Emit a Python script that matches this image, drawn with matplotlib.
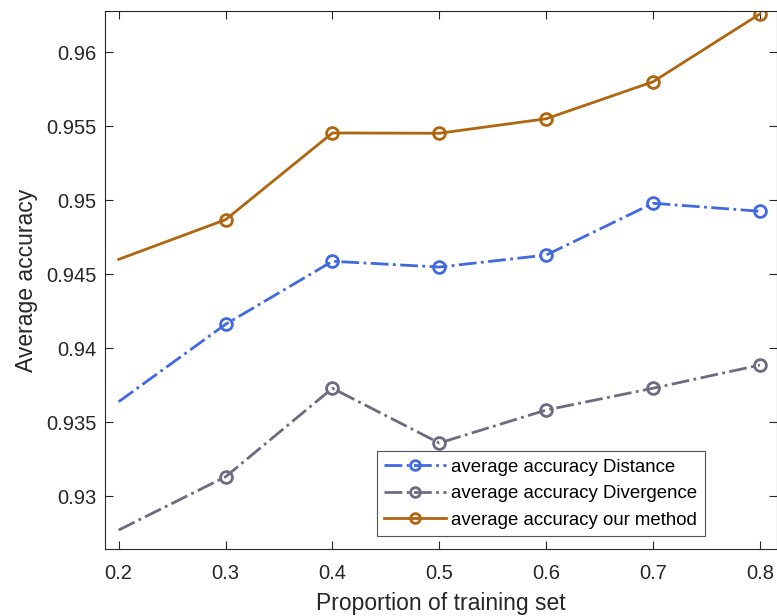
import numpy as np
import matplotlib.pyplot as plt

plt.rcParams['font.family'] = ['Liberation Sans', 'DejaVu Sans']

# proportion of training set
proportion = [0.2, 0.3, 0.4, 0.5, 0.6, 0.7, 0.8]

# average accuracy per method
acc_distance = [0.93639, 0.94162, 0.94588, 0.94549, 0.94630, 0.94980, 0.94926]
acc_divergence = [0.92772, 0.93132, 0.93730, 0.93360, 0.93583, 0.93730, 0.93887]
acc_ours = [0.94601, 0.94869, 0.95455, 0.95453, 0.95551, 0.95801, 0.96259]

labels = ['average accuracy Distance', 'average accuracy Divergence',
          'average accuracy our method']

fig = plt.figure(figsize=(7.77, 6.16), dpi=100)
ax = fig.add_axes([105 / 777, 1 - 549 / 616, 672 / 777, 538 / 616])

mk = dict(marker='o', markersize=8.5, markerfacecolor='none', markeredgewidth=2,
          markevery=slice(1, None))
ax.plot(proportion, acc_distance, linestyle='-.', color='#4169e1', lw=2,
        label=labels[0], **mk)
ax.plot(proportion, acc_divergence, linestyle='-.', color='#6b6b82', lw=2,
        label=labels[1], **mk)
ax.plot(proportion, acc_ours, linestyle='-', color='#b0650f', lw=2,
        label=labels[2], **mk)

ax.set_xlim(0.1872, 0.8160)
ax.set_ylim(0.92644, 0.96279)
ax.set_xticks([0.2, 0.3, 0.4, 0.5, 0.6, 0.7, 0.8])
ax.set_xticklabels(['0.2', '0.3', '0.4', '0.5', '0.6', '0.7', '0.8'])
ax.set_yticks([0.93, 0.935, 0.94, 0.945, 0.95, 0.955, 0.96])
ax.set_yticklabels(['0.93', '0.935', '0.94', '0.945', '0.95', '0.955', '0.96'])
ax.tick_params(direction='in', top=True, right=True, length=6, width=0.8,
               colors='#262626', labelsize=14.5)
ax.tick_params(axis='x', pad=11)
ax.tick_params(axis='y', pad=6)
for s in ax.spines.values():
    s.set_color('#262626')
    s.set_linewidth(0.8)

ax.set_xlabel('Proportion of training set', fontsize=16.5, color='#262626', labelpad=6)
ax.set_ylabel('Average accuracy', fontsize=16.5, color='#262626', labelpad=6)

leg = ax.legend(loc='lower left', bbox_to_anchor=((377 - 105) / 672, (549 - 536) / 538),
                fontsize=13.4, frameon=True, fancybox=False, edgecolor='#262626',
                handlelength=3.3, handletextpad=0.3, borderpad=0.4, labelspacing=0.5,
                borderaxespad=0)
leg.get_frame().set_linewidth(0.8)
for h in leg.legend_handles:
    h.set_markevery([1])
    h.set_markersize(7)

fig.savefig('out.png', dpi=100)
